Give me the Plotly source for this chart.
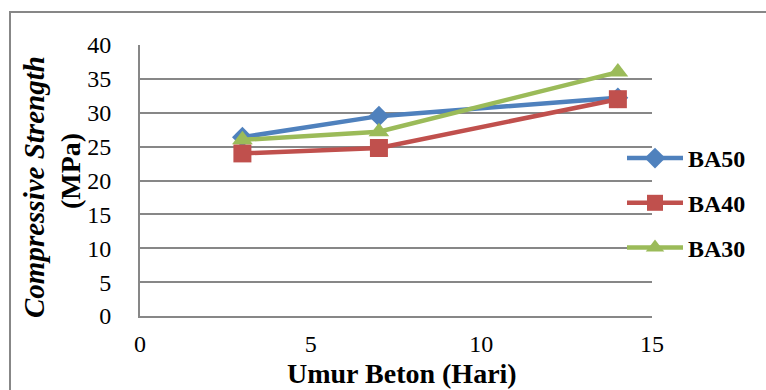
import plotly.graph_objects as go

# Concrete age (days) and compressive strength (MPa) per mix
umur = [3, 7, 14]
ba50 = [26.4, 29.5, 32.2]
ba40 = [24.0, 24.8, 32.0]
ba30 = [26.0, 27.2, 36.0]

x_ticks = [0, 5, 10, 15]
y_ticks = [0, 5, 10, 15, 20, 25, 30, 35, 40]

W, H = 766, 390
L, R, T, B = 140, 114, 45, 74
pw, ph = W - L - R, H - T - B

FONT = "Liberation Serif, Times New Roman, serif"
GRID = "#878787"


def px_x(p):
    return (p - L) / pw


def px_y(p):
    return (H - B - p) / ph


series = [
    ("BA50", ba50, "#4F81BD", "diamond", 16),
    ("BA40", ba40, "#C0504D", "square", 18),
    ("BA30", ba30, "#9BBB59", "triangle-up", 18),
]

fig = go.Figure()
for name, vals, col, sym, size in series:
    fig.add_trace(go.Scatter(
        x=umur, y=vals, name=name, legendgroup=name,
        mode="lines+markers",
        line=dict(color=col, width=4.5),
        marker=dict(symbol=sym, size=size, color=col),
    ))

fig.update_layout(
    width=W, height=H,
    margin=dict(l=L, r=R, t=T, b=B, pad=0),
    paper_bgcolor="white", plot_bgcolor="white",
    font=dict(family=FONT, size=24, color="black"),
    showlegend=True,
    legend=dict(
        x=px_x(622), y=px_y(136), xanchor="left", yanchor="top",
        bgcolor="rgba(255,255,255,0)", borderwidth=0,
        font=dict(family=FONT, size=24, color="black", weight="bold"),
        traceorder="grouped", tracegroupgap=10.5, itemwidth=56,
    ),
    xaxis=dict(
        range=[0, 15], tickvals=x_ticks, showgrid=False, zeroline=False,
        showline=True, linecolor=GRID, linewidth=2,
        ticks="", ticklabelstandoff=5,
        tickfont=dict(family=FONT, size=24, color="black"),
    ),
    yaxis=dict(
        range=[0, 40], tickvals=y_ticks, showgrid=True, gridcolor=GRID,
        gridwidth=2, zeroline=False,
        showline=True, linecolor=GRID, linewidth=2,
        ticks="", ticklabelstandoff=22,
        tickfont=dict(family=FONT, size=24, color="black"),
    ),
    shapes=[
        # outer chart frame
        dict(type="rect", xref="paper", yref="paper",
             x0=px_x(10), y0=px_y(12), x1=px_x(W + 20), y1=px_y(H + 20),
             line=dict(color=GRID, width=2), fillcolor="rgba(0,0,0,0)",
             layer="below"),
        # white backing of the legend box, over the gridlines
        dict(type="rect", xref="paper", yref="paper",
             x0=px_x(618), y0=px_y(128), x1=px_x(W), y1=px_y(266),
             line=dict(width=0), fillcolor="white", layer="between"),
    ],
    annotations=[
        dict(text="<b>Umur Beton (Hari)</b>", xref="paper", yref="paper",
             x=px_x(402), y=px_y(373), xanchor="center", yanchor="middle",
             showarrow=False,
             font=dict(family=FONT, size=28, color="black")),
        dict(text="<b><i>Compressive Strength</i></b>", xref="paper", yref="paper",
             x=px_x(34), y=px_y(187), xanchor="center", yanchor="middle",
             textangle=-90, showarrow=False,
             font=dict(family=FONT, size=29, color="black")),
        dict(text="<b>(MPa)</b>", xref="paper", yref="paper",
             x=px_x(70), y=px_y(171), xanchor="center", yanchor="middle",
             textangle=-90, showarrow=False,
             font=dict(family=FONT, size=28, color="black")),
    ],
)

fig.write_html("out.html")
